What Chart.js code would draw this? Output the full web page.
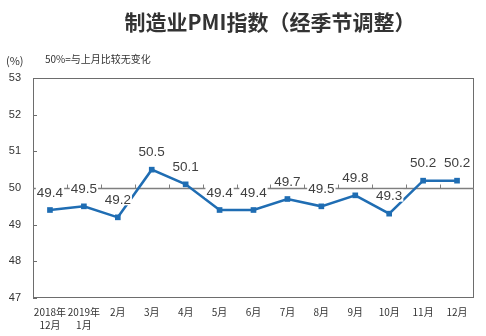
<!DOCTYPE html>
<html>
<head>
<meta charset="utf-8">
<script src="https://cdn.jsdelivr.net/npm/chart.js@4/dist/chart.umd.min.js"></script>
<style>
  html, body { margin: 0; padding: 0; background: #fff; }
  #wrap { width: 486px; height: 336px; }
</style>
</head>
<body>
<div id="wrap"><canvas id="pmi" width="486" height="336"></canvas></div>
<script>
var months = [['2018年', '12月'], ['2019年', '1月'], '2月', '3月', '4月', '5月', '6月', '7月', '8月', '9月', '10月', '11月', '12月'];
var pmiValues = [49.4, 49.5, 49.2, 50.5, 50.1, 49.4, 49.4, 49.7, 49.5, 49.8, 49.3, 50.2, 50.2];
var yTicks = [47, 48, 49, 50, 51, 52, 53];
var baseline = 50;

var cjk = '"Noto Sans CJK SC", "Noto Sans", sans-serif';
var latin = '"Liberation Sans", Arial, sans-serif';
var narrow = '"Liberation Sans Narrow", "Liberation Sans", sans-serif';

// frame, 50 line with its small ticks, left axis ticks
var framePlugin = {
  id: 'frame',
  beforeDatasetsDraw: function(chart) {
    var ctx = chart.ctx, area = chart.chartArea;
    var y = chart.scales.y;
    ctx.save();
    ctx.strokeStyle = '#6d6d6d';
    ctx.lineWidth = 1;
    ctx.strokeRect(area.left + 0.5, area.top + 0.5, area.right - area.left - 1, area.bottom - area.top - 1);

    // inward ticks on the value axis
    yTicks.forEach(function(v) {
      var py = Math.round(y.getPixelForValue(v)) + 0.5;
      ctx.beginPath();
      ctx.moveTo(area.left, py);
      ctx.lineTo(area.left + 4, py);
      ctx.stroke();
    });

    // category axis crossing at 50
    var by = Math.round(y.getPixelForValue(baseline)) + 0.5;
    ctx.strokeStyle = '#7f7f7f';
    ctx.lineWidth = 1.5;
    ctx.beginPath();
    ctx.moveTo(area.left, by);
    ctx.lineTo(area.right, by);
    ctx.stroke();
    ctx.lineWidth = 1;
    var step = (area.right - area.left) / months.length;
    for (var i = 1; i < months.length; i++) {
      var px = Math.round(area.left + step * i) + 0.5;
      ctx.beginPath();
      ctx.moveTo(px, by);
      ctx.lineTo(px, by - 4);
      ctx.stroke();
    }
    ctx.restore();
  },
  afterDatasetsDraw: function(chart) {
    // value labels with white boxes
    var ctx = chart.ctx;
    var meta = chart.getDatasetMeta(0);
    ctx.save();
    ctx.font = '13.5px ' + latin;
    ctx.textAlign = 'center';
    ctx.textBaseline = 'middle';
    meta.data.forEach(function(pt, i) {
      var txt = pmiValues[i].toFixed(1);
      var w = ctx.measureText(txt).width;
      var cy = pt.y - 18;
      ctx.fillStyle = '#ffffff';
      ctx.fillRect(pt.x - w / 2 - 1, cy - 6, w + 2, 12);
      ctx.fillStyle = '#404040';
      ctx.fillText(txt, pt.x, cy + 1);
    });
    ctx.restore();
  },
  afterDraw: function(chart) {
    var ctx = chart.ctx;
    ctx.save();
    ctx.fillStyle = '#333333';
    ctx.textBaseline = 'middle';
    ctx.textAlign = 'center';
    ctx.font = 'bold 21px ' + cjk;
    ctx.fillText('制造业PMI指数（经季节调整）', 270, 22);
    ctx.textAlign = 'left';
    ctx.font = '11px ' + cjk;
    ctx.fillText('(%)', 6, 61);
    ctx.font = '10px ' + cjk;
    ctx.fillText('50%=与上月比较无变化', 45, 59);
    ctx.restore();
  }
};

new Chart(document.getElementById('pmi'), {
  type: 'line',
  data: {
    labels: months,
    datasets: [{
      data: pmiValues,
      borderColor: '#1f6db3',
      backgroundColor: '#1f6db3',
      borderWidth: 2.5,
      pointStyle: 'rect',
      pointRadius: 4,
      pointBorderWidth: 0,
      tension: 0
    }]
  },
  options: {
    responsive: false,
    animation: false,
    layout: { padding: { top: 78, right: 12, left: 0, bottom: 0 } },
    plugins: {
      legend: { display: false },
      tooltip: { enabled: false }
    },
    scales: {
      x: {
        type: 'category',
        offset: true,
        grid: { display: false, drawTicks: false },
        border: { display: false },
        ticks: {
          autoSkip: false,
          maxRotation: 0,
          padding: 8,
          color: '#333333',
          font: { size: 10, family: cjk, lineHeight: 1.3 }
        },
        afterFit: function(scale) { scale.height = 38; }
      },
      y: {
        min: 47,
        max: 53,
        grid: { display: false, drawTicks: false },
        border: { display: false },
        ticks: {
          stepSize: 1,
          padding: 12,
          color: '#333333',
          font: { size: 11, family: narrow }
        },
        afterFit: function(scale) { scale.width = 33; }
      }
    }
  },
  plugins: [framePlugin]
});
</script>
</body>
</html>
